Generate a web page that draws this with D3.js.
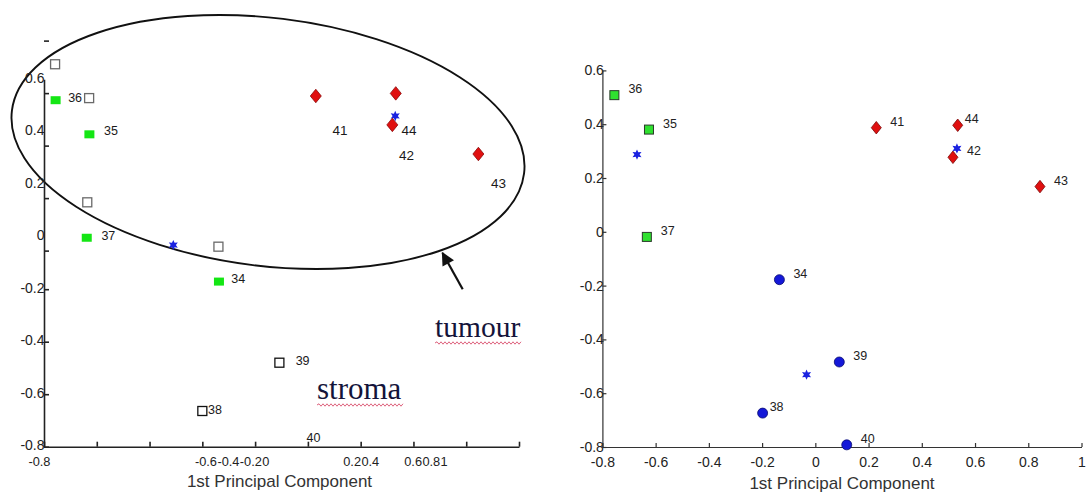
<!DOCTYPE html>
<html>
<head>
<meta charset="utf-8">
<script src="https://cdn.jsdelivr.net/npm/d3@7"></script>
<style>
  html, body { margin: 0; padding: 0; background: #fff; }
  svg { display: block; }
</style>
</head>
<body>
<svg id="fig" width="1092" height="494" font-family='"Liberation Sans", Arial, sans-serif'></svg>
<script>
// ---------- Left panel: first PCA run ----------
const leftXTicks = [-0.8, -0.6, -0.4, -0.2, 0, 0.2, 0.4, 0.6, 0.8, 1];
const leftXTickLabels = ["-0.8", "-0.6", "-0.4", "-0.2", "0", "0.2", "0.4", "0.6", "0.8", "1"];
const leftYTickLabelValues = [0.6, 0.4, 0.2, 0, -0.2, -0.4, -0.6, -0.8];
const leftYTickLabels = ["0.6", "0.4", "0.2", "0", "-0.2", "-0.4", "-0.6", "-0.8"];
const leftYTickMarks = [0.747, 0.547, 0.347, 0.147, -0.053, -0.2, -0.4, -0.6, -0.8];

const leftGreenIds = [36, 35, 37, 34];
const leftGreenX = [-0.756, -0.628, -0.638, -0.137];
const leftGreenY = [0.520, 0.390, -0.004, -0.171];

const leftOpenX = [-0.758, -0.629, -0.636, -0.139, 0.092, -0.200];
const leftOpenY = [0.657, 0.528, 0.131, -0.038, -0.480, -0.664];
const leftOpenDark = [false, false, false, false, true, true];

const leftStarX = [-0.310, 0.531];
const leftStarY = [-0.032, 0.460];

const leftDiamondIds = [41, 44, 42, 43];
const leftDiamondX = [0.230, 0.533, 0.520, 0.846];
const leftDiamondY = [0.536, 0.546, 0.426, 0.315];

const leftLabelIds = [36, 35, 37, 34, 41, 44, 42, 43, 39, 38, 40];
const leftLabelX = [-0.682, -0.546, -0.556, -0.064, 0.322, 0.583, 0.574, 0.922, 0.180, -0.152, 0.221];
const leftLabelY = [0.530, 0.404, 0.006, -0.161, 0.406, 0.404, 0.311, 0.201, -0.470, -0.658, -0.764];

// ---------- Right panel: revised PCA ----------
const rightXTicks = [-0.8, -0.6, -0.4, -0.2, 0, 0.2, 0.4, 0.6, 0.8, 1];
const rightXTickLabels = ["-0.8", "-0.6", "-0.4", "-0.2", "0", "0.2", "0.4", "0.6", "0.8", "1"];
const rightYTicks = [0.6, 0.4, 0.2, 0, -0.2, -0.4, -0.6, -0.8];
const rightYTickLabels = ["0.6", "0.4", "0.2", "0", "-0.2", "-0.4", "-0.6", "-0.8"];

const rightGreenIds = [36, 35, 37];
const rightGreenX = [-0.755, -0.625, -0.633];
const rightGreenY = [0.508, 0.380, -0.019];

const rightDiamondIds = [41, 44, 42, 43];
const rightDiamondX = [0.229, 0.535, 0.517, 0.844];
const rightDiamondY = [0.387, 0.396, 0.277, 0.168];

const rightCircleIds = [34, 39, 38, 40];
const rightCircleX = [-0.135, 0.090, -0.198, 0.118];
const rightCircleY = [-0.178, -0.484, -0.674, -0.792];

const rightStarX = [-0.670, 0.532, -0.033];
const rightStarY = [0.287, 0.310, -0.531];

const axisTitle = "1st Principal Component";

// ---------- layout ----------
const svg = d3.select("#fig");
const FONT = '"Liberation Sans", Arial, sans-serif';
const SERIF = '"Liberation Serif", "Times New Roman", serif';

const lx = d3.scaleLinear().domain([-0.8, 1]).range([44, 519]);
const ly = d3.scaleLinear().domain([-0.8, 0.6]).range([446.7, 79.2]);
const rx = d3.scaleLinear().domain([-0.8, 1]).range([602.4, 1081.5]);
const ry = d3.scaleLinear().domain([-0.8, 0.6]).range([447, 70.4]);

// the left axis prints its labels in crowded runs; each run starts at a set place
const leftXLabelRun = [0, 1, 1, 1, 1, 2, 2, 3, 3, 3];
const leftXRunStart = [-0.859, -0.228, 0.334, 0.565];

// shapes
const starPath = (() => {
  const pts = [];
  for (let i = 0; i < 12; i++) {
    const r = i % 2 === 0 ? 5.2 : 2.6;
    const a = -Math.PI / 2 + i * Math.PI / 6;
    pts.push([r * Math.cos(a), r * Math.sin(a)]);
  }
  return "M" + pts.map(p => p[0].toFixed(2) + "," + p[1].toFixed(2)).join("L") + "Z";
})();
const diamondPath = (w, h) => `M0,${-h / 2}L${w / 2},0L0,${h / 2}L${-w / 2},0Z`;

function wavy(g, x0, x1, y) {
  let d = `M${x0},${y}`;
  let up = true;
  for (let x = x0 + 2; x <= x1; x += 2) {
    d += `L${x},${y + (up ? -1.2 : 1.2)}`;
    up = !up;
  }
  g.append("path").attr("d", d).attr("fill", "none")
    .attr("stroke", "#d9506e").attr("stroke-width", 0.9);
}

// ================= LEFT PANEL =================
const L = svg.append("g");

// tumour outline
L.append("ellipse")
  .attr("cx", 268).attr("cy", 142).attr("rx", 258).attr("ry", 124)
  .attr("transform", "rotate(7,268,142)")
  .attr("fill", "none").attr("stroke", "#111").attr("stroke-width", 1.9);

// arrow pointing at the outline
svg.append("defs").append("marker")
  .attr("id", "head").attr("viewBox", "0 0 10 10")
  .attr("refX", 9).attr("refY", 5)
  .attr("markerWidth", 7).attr("markerHeight", 6)
  .attr("markerUnits", "strokeWidth")
  .attr("orient", "auto")
  .append("path").attr("d", "M0,0L10,5L0,10Z").attr("fill", "#111");
L.append("line")
  .attr("x1", 462.7).attr("y1", 289.3).attr("x2", 442.5).attr("y2", 253)
  .attr("stroke", "#111").attr("stroke-width", 2.2)
  .attr("marker-end", "url(#head)");

// x axis
const lxAxis = L.append("g").attr("transform", `translate(0,${ly(-0.8)})`)
  .call(d3.axisBottom(lx).tickValues(leftXTicks).tickSizeInner(-5).tickSizeOuter(0).tickFormat(""));
lxAxis.selectAll("path,line").attr("stroke", "#222").attr("stroke-width", 1.6);

// y axis
const lyAxis = L.append("g").attr("transform", `translate(${lx(-0.8)},0)`)
  .call(d3.axisLeft(ly).tickValues(leftYTickMarks).tickSizeInner(-5).tickSizeOuter(0).tickFormat(""));
lyAxis.selectAll("path,line").attr("stroke", "#222").attr("stroke-width", 1.6);

// x tick labels, set end to end within each run
const lxl = L.selectAll("text.lxl").data(leftXTickLabels).join("text")
  .attr("class", "lxl")
  .attr("y", 465.5)
  .attr("font-size", 12.8).attr("fill", "#222")
  .text(d => d);
{
  let run = -1, cursor = 0;
  lxl.each(function (d, i) {
    if (leftXLabelRun[i] !== run) {
      run = leftXLabelRun[i];
      cursor = lx(leftXRunStart[run]);
    }
    d3.select(this).attr("x", cursor);
    cursor += this.getComputedTextLength() + 0.4;
  });
}
L.selectAll("text.lyl").data(leftYTickLabels).join("text")
  .attr("class", "lyl")
  .attr("x", 44.5)
  .attr("y", (d, i) => ly(leftYTickLabelValues[i]) + 3.5)
  .attr("text-anchor", "end")
  .attr("font-size", 14).attr("fill", "#222")
  .text(d => d);

// axis title
L.append("text").attr("x", 279.5).attr("y", 486.5)
  .attr("text-anchor", "middle").attr("font-size", 17).attr("fill", "#333")
  .text(axisTitle);

// open squares
L.selectAll("rect.open").data(leftOpenX).join("rect")
  .attr("class", "open")
  .attr("x", (d, i) => lx(d) - 4.5).attr("y", (d, i) => ly(leftOpenY[i]) - 4.5)
  .attr("width", 9).attr("height", 9)
  .attr("fill", "none")
  .attr("stroke", (d, i) => leftOpenDark[i] ? "#111" : "#6a6a6a")
  .attr("stroke-width", 1.3);

// green filled squares
L.selectAll("rect.green").data(leftGreenX).join("rect")
  .attr("class", "green")
  .attr("x", d => lx(d) - 5).attr("y", (d, i) => ly(leftGreenY[i]) - 4)
  .attr("width", 10).attr("height", 8)
  .attr("fill", "#14e614");

// blue stars
L.selectAll("path.star").data(leftStarX).join("path")
  .attr("class", "star")
  .attr("transform", (d, i) => `translate(${lx(d)},${ly(leftStarY[i])})`)
  .attr("d", starPath).attr("fill", "#1a22e0");

// red diamonds
L.selectAll("path.dia").data(leftDiamondX).join("path")
  .attr("class", "dia")
  .attr("transform", (d, i) => `translate(${lx(d)},${ly(leftDiamondY[i])})`)
  .attr("d", diamondPath(11, 13.5))
  .attr("fill", "#e01010").attr("stroke", "#8a0a0a").attr("stroke-width", 0.8);

// sample numbers
L.selectAll("text.lab").data(leftLabelIds).join("text")
  .attr("class", "lab")
  .attr("x", (d, i) => lx(leftLabelX[i]))
  .attr("y", (d, i) => ly(leftLabelY[i]) + 4.5)
  .attr("text-anchor", "middle")
  .attr("font-size", d => d >= 41 && d <= 44 ? 13.5 : 12.5)
  .attr("fill", "#1a1a1a")
  .text(d => d);

// group captions
L.append("text").attr("x", 435).attr("y", 336.5)
  .attr("font-family", SERIF).attr("font-size", 29.5).attr("fill", "#14143a")
  .text("tumour");
wavy(L, 435, 521, 343);
L.append("text").attr("x", 317).attr("y", 398.5)
  .attr("font-family", SERIF).attr("font-size", 31).attr("fill", "#14143a")
  .text("stroma");
wavy(L, 317, 404, 405);

// ================= RIGHT PANEL =================
const R = svg.append("g");

const rxAxis = R.append("g").attr("transform", `translate(0,${ry(-0.8)})`)
  .call(d3.axisBottom(rx).tickValues(rightXTicks).tickSizeInner(-4).tickSizeOuter(0).tickPadding(10)
    .tickFormat((d, i) => rightXTickLabels[i]));
rxAxis.selectAll("path,line").attr("stroke", "#333").attr("stroke-width", 1.2);
rxAxis.selectAll("text").attr("font-size", 14).attr("font-family", FONT).attr("fill", "#222");

const ryAxis = R.append("g").attr("transform", `translate(${rx(-0.8)},0)`)
  .call(d3.axisLeft(ry).tickValues(rightYTicks).tickSizeInner(-4).tickSizeOuter(0).tickPadding(-1.5)
    .tickFormat((d, i) => rightYTickLabels[i]));
ryAxis.selectAll("path,line").attr("stroke", "#333").attr("stroke-width", 1.2);
ryAxis.selectAll("text").attr("font-size", 14).attr("font-family", FONT).attr("fill", "#222");
ryAxis.select(".domain").raise();

R.append("text").attr("x", 842).attr("y", 489)
  .attr("text-anchor", "middle").attr("font-size", 17).attr("fill", "#333")
  .text(axisTitle);

// green squares
R.selectAll("rect.green").data(rightGreenX).join("rect")
  .attr("class", "green")
  .attr("x", d => rx(d) - 4.5).attr("y", (d, i) => ry(rightGreenY[i]) - 4.5)
  .attr("width", 9).attr("height", 9)
  .attr("fill", "#2fe02f").attr("stroke", "#2a3a2a").attr("stroke-width", 1);

// red diamonds
R.selectAll("path.dia").data(rightDiamondX).join("path")
  .attr("class", "dia")
  .attr("transform", (d, i) => `translate(${rx(d)},${ry(rightDiamondY[i])})`)
  .attr("d", diamondPath(10, 12.5))
  .attr("fill", "#e01010").attr("stroke", "#7a0808").attr("stroke-width", 0.8);

// blue circles
R.selectAll("circle.blue").data(rightCircleX).join("circle")
  .attr("class", "blue")
  .attr("cx", d => rx(d)).attr("cy", (d, i) => ry(rightCircleY[i]))
  .attr("r", 5)
  .attr("fill", "#1418d8").attr("stroke", "#0a0c70").attr("stroke-width", 0.8);

// blue stars
R.selectAll("path.star").data(rightStarX).join("path")
  .attr("class", "star")
  .attr("transform", (d, i) => `translate(${rx(d)},${ry(rightStarY[i])})`)
  .attr("d", starPath).attr("fill", "#1a22e0");

// sample numbers beside each marker
const rightLabelled = [];
rightGreenIds.forEach((id, i) => rightLabelled.push({ id, x: rightGreenX[i], y: rightGreenY[i] }));
rightDiamondIds.forEach((id, i) => rightLabelled.push({ id, x: rightDiamondX[i], y: rightDiamondY[i] }));
rightCircleIds.forEach((id, i) => rightLabelled.push({ id, x: rightCircleX[i], y: rightCircleY[i] }));
const tightLabels = new Set([44, 38]);

R.selectAll("text.lab").data(rightLabelled).join("text")
  .attr("class", "lab")
  .attr("x", d => rx(d.x) + (tightLabels.has(d.id) ? 7 : 14))
  .attr("y", d => ry(d.y) - 2)
  .attr("font-size", 12.5)
  .attr("fill", "#222")
  .text(d => d.id);
</script>
</body>
</html>
